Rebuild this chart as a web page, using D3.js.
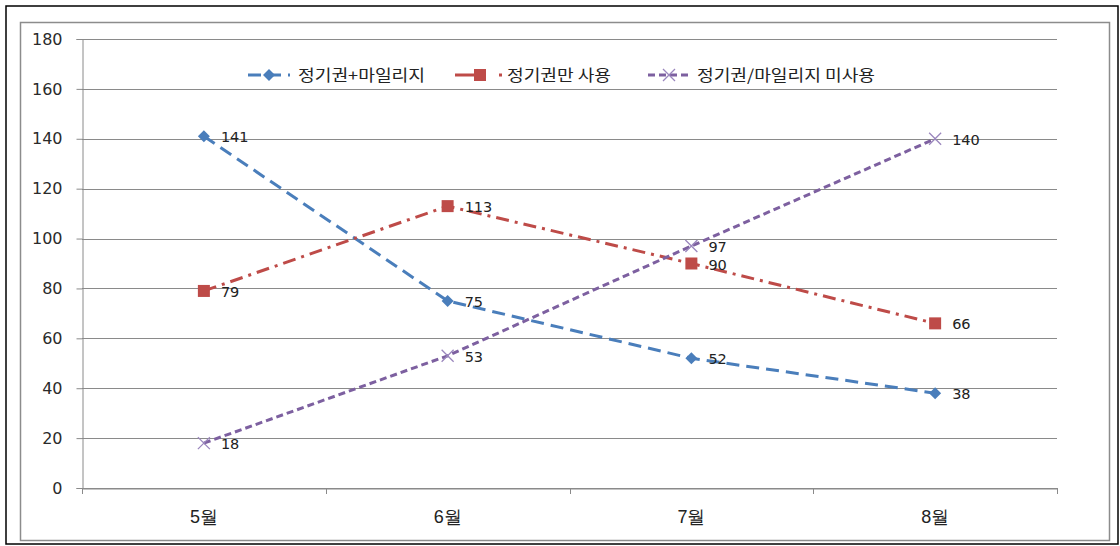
<!DOCTYPE html>
<html><head><meta charset="utf-8">
<script src="https://cdn.jsdelivr.net/npm/d3@7"></script>
<style>body{margin:0;background:#fff;} svg{display:block;font-family:"Noto Sans CJK KR","Noto Sans",sans-serif;}</style>
</head><body>
<svg id="c" width="1120" height="546"></svg>
<script>
const categories = ["5월","6월","7월","8월"];
const seriesNames = ["정기권+마일리지","정기권만 사용","정기권/마일리지 미사용"];
const seriesA = [141, 75, 52, 38];
const seriesB = [79, 113, 90, 66];
const seriesC = [18, 53, 97, 140];
const yTicks = [0,20,40,60,80,100,120,140,160,180];

const svg = d3.select("#c");
const numFont = "'DejaVu Sans','Noto Sans',sans-serif";
// outer frames
svg.append("rect").attr("x",6).attr("y",6).attr("width",1112).attr("height",538).attr("fill","none").attr("stroke","#000").attr("stroke-width",1.5);
svg.append("rect").attr("x",20.5).attr("y",22.5).attr("width",1089).attr("height",518).attr("fill","none").attr("stroke","#8c8c8c").attr("stroke-width",1.5);

const x0 = 82, x1 = 1057, yTop = 39, yBot = 488;
const x = d3.scaleBand().domain(categories).range([x0, x1]);
const y = d3.scaleLinear().domain([0,180]).range([yBot, yTop]);

// gridlines
svg.append("g").selectAll("line").data(yTicks).join("line")
  .attr("x1", x0).attr("x2", x1).attr("y1", d=>Math.round(y(d))+0.5).attr("y2", d=>Math.round(y(d))+0.5)
  .attr("stroke","#8a8a8a").attr("stroke-width",1);

// y axis
const yAxis = d3.axisLeft(y).tickValues(yTicks).tickSize(6).tickPadding(14);
const gy = svg.append("g").attr("transform",`translate(${x0+0.5},0)`).call(yAxis);
gy.select(".domain").attr("stroke","#8a8a8a");
gy.selectAll(".tick line").attr("stroke","#8a8a8a");
gy.selectAll(".tick text").attr("font-size",16).attr("fill","#2a2a2a").attr("font-family",numFont);

// x axis
const gx = svg.append("g").attr("transform",`translate(0,${yBot+0.5})`).call(d3.axisBottom(x).tickSize(0).tickPadding(22));
gx.select(".domain").attr("stroke","#8a8a8a");
gx.selectAll(".tick text").attr("font-size",18).attr("fill","#222");
// boundary ticks
const bounds = categories.map(c=>x(c)).concat([x1]);
svg.append("g").selectAll("line").data(bounds).join("line")
  .attr("x1",d=>Math.round(d)+0.5).attr("x2",d=>Math.round(d)+0.5).attr("y1",yBot).attr("y2",yBot+6)
  .attr("stroke","#8a8a8a");

const cx = c => x(c) + x.bandwidth()/2;
const series = [
  {name: seriesNames[0], vals: seriesA, color:"#4a7ebb", dash:"13,7", marker:"diamond"},
  {name: seriesNames[1], vals: seriesB, color:"#be4b48", dash:"13,6,3,6", marker:"square"},
  {name: seriesNames[2], vals: seriesC, color:"#7d60a0", dash:"7,4", marker:"x"}
];
const line = d3.line().x((d,i)=>cx(categories[i])).y(d=>y(d));

function drawMarker(g, type, px, py, color){
  if(type==="diamond"){
    g.append("path").attr("d",`M${px},${py-6}L${px+6},${py}L${px},${py+6}L${px-6},${py}Z`).attr("fill",color);
  } else if(type==="square"){
    g.append("rect").attr("x",px-6).attr("y",py-6).attr("width",12).attr("height",12).attr("fill",color);
  } else {
    g.append("path").attr("d",`M${px-6},${py-6}L${px+6},${py+6}M${px-6},${py+6}L${px+6},${py-6}`).attr("stroke","#9a86bd").attr("stroke-width",1.3).attr("fill","none");
  }
}

series.forEach(s=>{
  const g = svg.append("g");
  g.append("path").datum(s.vals).attr("d",line).attr("fill","none").attr("stroke",s.color).attr("stroke-width",3).attr("stroke-dasharray",s.dash);
  s.vals.forEach((v,i)=>{
    drawMarker(g, s.marker, cx(categories[i]), y(v), s.color);
    g.append("text").attr("x",cx(categories[i])+17).attr("y",y(v)+6).attr("font-size",14.5).attr("fill","#222")
      .attr("font-family",numFont).text(v);
  });
});

// legend
const legX = [248, 455, 648];
const legText = [298, 507, 697];
const legLen = [127, 104, 178];
const legY = 75;
series.forEach((s,i)=>{
  const g = svg.append("g");
  g.append("line").attr("x1",legX[i]).attr("x2",legX[i]+42).attr("y1",legY).attr("y2",legY).attr("stroke",s.color).attr("stroke-width",3)
    .attr("stroke-dasharray", i===1 ? "20,100" : (i===0 ? "13,7" : "7,4"));
  if(i===1) g.append("rect").attr("x",legX[i]+44).attr("y",legY-1.5).attr("width",3).attr("height",3).attr("fill",s.color);
  drawMarker(g, s.marker, legX[i]+(i===1?25:21), legY, s.color);
  g.append("text").attr("x",legText[i]).attr("y",legY+6).attr("font-size",16).attr("fill","#222")
    .attr("textLength",legLen[i]).attr("lengthAdjust","spacingAndGlyphs").text(s.name);
});
</script>
</body></html>
